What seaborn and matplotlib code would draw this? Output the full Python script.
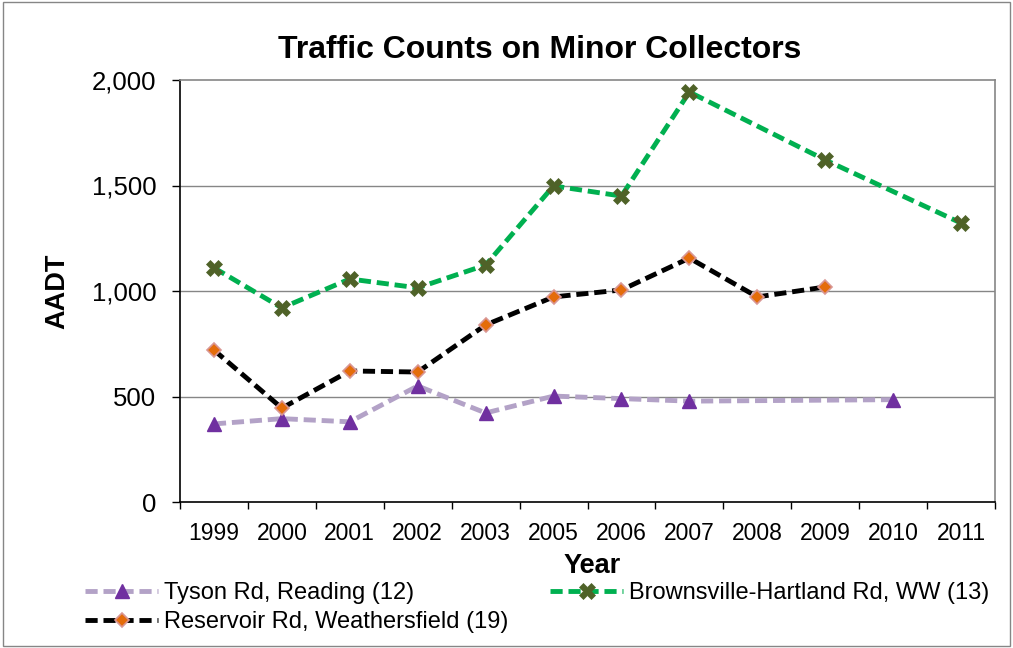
import numpy as np
import pandas as pd
import matplotlib
matplotlib.use("Agg")
import matplotlib.pyplot as plt
import seaborn as sns
from matplotlib.patches import Rectangle

years = ["1999", "2000", "2001", "2002", "2003", "2005", "2006", "2007", "2008", "2009", "2010", "2011"]
tyson = [370, 395, 380, 550, 422, 502, 490, 478, np.nan, np.nan, 485, np.nan]
brownsville = [1110, 920, 1057, 1015, 1123, 1498, 1450, 1943, np.nan, 1621, np.nan, 1322]
reservoir = [720, 445, 621, 616, 839, 972, 1005, 1156, 972, 1019, np.nan, np.nan]

labels = ["Tyson Rd, Reading (12)", "Brownsville-Hartland Rd, WW (13)", "Reservoir Rd, Weathersfield (19)"]

sns.set_theme(style="white")
plt.rcParams["font.family"] = ["Liberation Sans", "DejaVu Sans"]
for k in ["text.color", "axes.labelcolor", "xtick.color", "ytick.color"]:
    plt.rcParams[k] = "black"

W, H = 1013, 648
fig = plt.figure(figsize=(W / 100, H / 100), dpi=100)
ax = fig.add_axes([180/W, 1-502/H, (995-180)/W, (502-80)/H])

xs = np.arange(len(years))
styles = [
    dict(vals=tyson, color="#B3A2C7", marker="^", ms=9.5, mfc="#7030A0", mec="#7030A0", mew=1),
    dict(vals=brownsville, color="#00B050", marker="X", ms=11.5, mfc="#4F6228", mec="#4F6228", mew=0.5),
    dict(vals=reservoir, color="#000000", marker="D", ms=6.8, mfc="#E46C0A", mec="#D99694", mew=1.2),
]
handles = []
for st, lab in zip(styles, labels):
    df = pd.DataFrame({"x": xs, "y": st["vals"]}).dropna()
    sns.lineplot(data=df, x="x", y="y", ax=ax, color=st["color"], lw=3.5,
                 marker=st["marker"], markersize=st["ms"], markerfacecolor=st["mfc"],
                 markeredgecolor=st["mec"], markeredgewidth=st["mew"], label=lab,
                 dashes=False, zorder=3)
    line = ax.get_lines()[-1]
    line.set_dashes((2.5, 1.2))
    handles.append(line)

ax.set_xlim(-0.5, len(years) - 0.5)
ax.set_ylim(0, 2000)
ax.set_yticks([0, 500, 1000, 1500, 2000])
ax.set_yticklabels(["0", "500", "1,000", "1,500", "2,000"], fontsize=18.5)
ax.set_xticks(xs)
ax.set_xticklabels(years, fontsize=16.5)
ax.set_xticks(np.arange(-0.5, len(years)), minor=True)
ax.tick_params(axis="x", which="major", length=0, pad=14.5)
ax.tick_params(axis="x", which="minor", length=5, width=1, direction="out", color="black", bottom=True)
ax.tick_params(axis="y", which="major", length=6, width=1, direction="out", color="black", left=True, pad=11)

for y in [500, 1000, 1500]:
    ax.axhline(y, color="#868686", lw=1, zorder=1)
for s in ["top", "right"]:
    ax.spines[s].set_color("#868686")
    ax.spines[s].set_linewidth(1.2)
for s in ["left", "bottom"]:
    ax.spines[s].set_color("black")
    ax.spines[s].set_linewidth(1.2)

ax.set_xlabel("Year", fontsize=19.5, fontweight="bold")
ax.xaxis.set_label_coords(0.5055, (502-573)/422)
ax.xaxis.label.set_verticalalignment("baseline")
ax.set_ylabel("AADT", fontsize=19.5, fontweight="bold")
ax.yaxis.set_label_coords((57.5-180)/815, 0.5)
ax.yaxis.label.set_verticalalignment("center")
fig.text(540/W, 1-50/H, "Traffic Counts on Minor Collectors", fontsize=23,
         fontweight="bold", ha="center", va="center")

if ax.get_legend():
    ax.get_legend().remove()

common = dict(loc="upper left", frameon=False, fontsize=17, handlelength=3.1,
              labelspacing=0.3, handletextpad=0.25, borderaxespad=0, borderpad=0)
leg1 = fig.legend([handles[0], handles[2]], [labels[0], labels[2]],
                  bbox_to_anchor=(85/W, 1-582/H), **common)
leg2 = fig.legend([handles[1]], [labels[1]],
                  bbox_to_anchor=(550/W, 1-582/H), **common)

fig.patches.append(Rectangle((3/W, 2/H), 1-6/W, 1-4/H, transform=fig.transFigure,
                             fill=False, edgecolor="#868686", lw=1))

fig.savefig("out.png", dpi=100)
